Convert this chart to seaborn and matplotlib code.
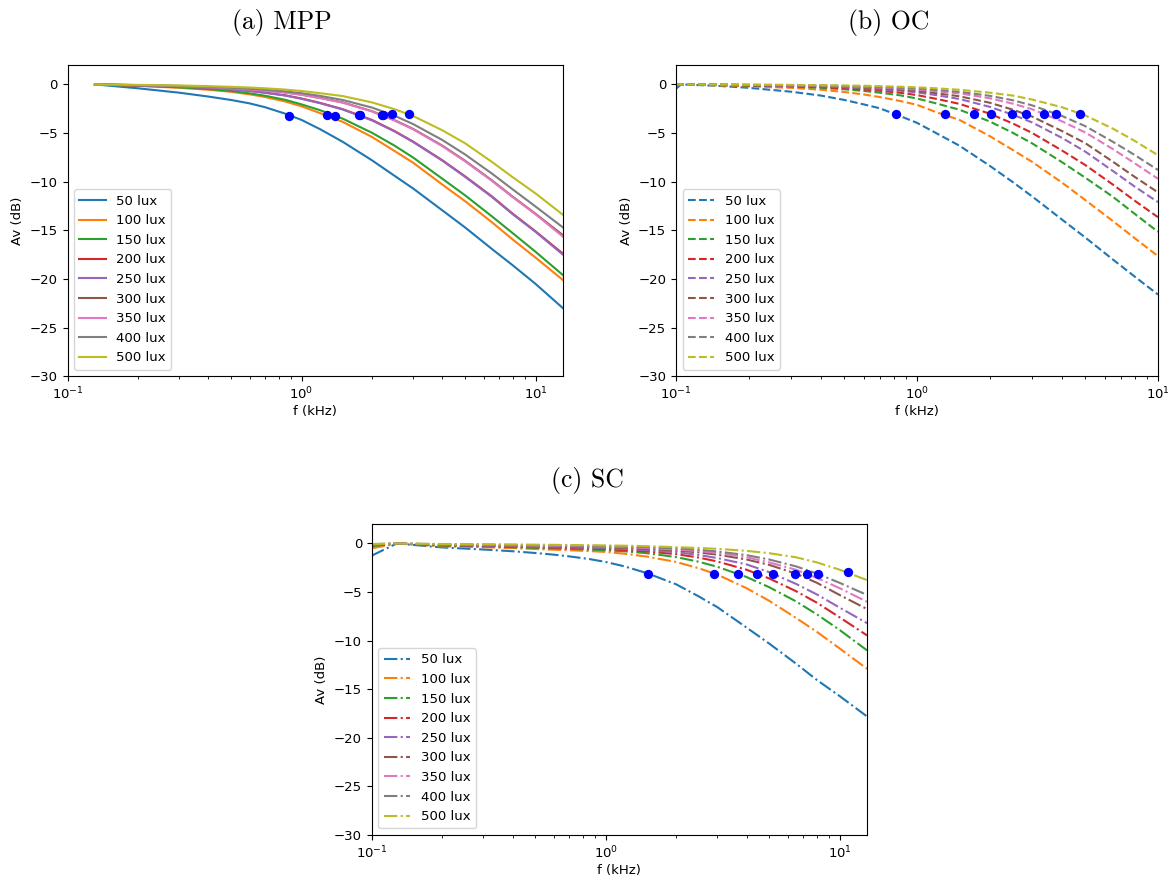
import matplotlib
matplotlib.use("Agg")
import matplotlib.pyplot as plt
import seaborn as sns

plt.rcParams["font.size"] = 9.5

# legend names (same for every panel)
lux = ["50 lux", "100 lux", "150 lux", "200 lux", "250 lux",
       "300 lux", "350 lux", "400 lux", "500 lux"]

# (a) MPP : gain in dB vs frequency in kHz
f_mpp = [0.131, 0.2, 0.3, 0.4, 0.5, 0.6, 0.7, 0.85, 1.0, 1.2, 1.5, 2.0, 2.5,
         3.0, 4.0, 5.0, 6.5, 8.0, 10.0, 13.1]
mpp_50 = [0, -0.4, -0.85, -1.25, -1.6, -1.95, -2.35, -3.0, -3.65, -4.6, -5.9, -7.8, -9.4,
          -10.7, -12.95, -14.7, -16.9, -18.6, -20.5, -23.0]
mpp_100 = [0, -0.15, -0.35, -0.55, -0.76, -1.02, -1.3, -1.75, -2.25, -2.95, -3.85, -5.4, -6.85,
           -8.05, -10.3, -12.0, -14.15, -15.95, -17.8, -20.1]
mpp_150 = [0, -0.13, -0.3, -0.48, -0.68, -0.92, -1.17, -1.58, -2.05, -2.65, -3.52, -4.97, -6.3,
           -7.52, -9.7, -11.4, -13.55, -15.3, -17.2, -19.6]
mpp_200 = [0, -0.1, -0.22, -0.35, -0.5, -0.66, -0.85, -1.12, -1.45, -1.9, -2.55, -3.65, -4.8,
           -5.88, -7.8, -9.45, -11.5, -13.3, -15.1, -17.4]
mpp_250 = [0, -0.1, -0.23, -0.36, -0.52, -0.68, -0.87, -1.14, -1.48, -1.93, -2.58, -3.7, -4.84,
           -5.92, -7.84, -9.5, -11.55, -13.35, -15.15, -17.5]
mpp_300 = [0, -0.08, -0.17, -0.27, -0.38, -0.5, -0.62, -0.82, -1.05, -1.38, -1.85, -2.75, -3.68,
           -4.58, -6.3, -7.85, -9.85, -11.55, -13.3, -15.5]
mpp_350 = [0, -0.08, -0.18, -0.28, -0.4, -0.52, -0.64, -0.84, -1.07, -1.41, -1.88, -2.78, -3.72,
           -4.62, -6.35, -7.9, -9.9, -11.6, -13.35, -15.65]
mpp_400 = [0, -0.07, -0.15, -0.24, -0.34, -0.44, -0.55, -0.71, -0.9, -1.18, -1.6, -2.38, -3.22,
           -4.08, -5.72, -7.2, -9.15, -10.8, -12.55, -14.7]
mpp_500 = [0, -0.05, -0.11, -0.18, -0.25, -0.32, -0.4, -0.53, -0.68, -0.9, -1.2, -1.85, -2.55,
           -3.25, -4.72, -6.05, -7.95, -9.55, -11.2, -13.4]
mpp_dot_f = [0.885, 1.29, 1.39, 1.76, 1.78, 2.2, 2.22, 2.43, 2.87]
mpp_dot_db = [-3.2, -3.15, -3.2, -3.1, -3.1, -3.1, -3.1, -3.05, -3.05]

# (b) OC
f_oc = [0.1, 0.105, 0.15, 0.2, 0.3, 0.4, 0.5, 0.6, 0.7, 0.85, 1.0, 1.2, 1.5, 2.0, 2.5,
        3.0, 4.0, 5.0, 6.5, 8.0, 10.0]
oc_50 = [-0.45, 0, -0.15, -0.35, -0.75, -1.15, -1.6, -2.05, -2.45, -3.25, -3.95, -5.0, -6.3,
         -8.35, -10.05, -11.5, -13.9, -15.75, -18.0, -19.75, -21.6]
oc_100 = [-0.05, 0, -0.1, -0.2, -0.35, -0.55, -0.78, -1.03, -1.3, -1.7, -2.1, -2.85, -3.65,
          -5.3, -6.75, -7.95, -10.1, -11.9, -14.05, -15.8, -17.65]
oc_150 = [-0.03, 0, -0.06, -0.12, -0.22, -0.35, -0.5, -0.67, -0.85, -1.12, -1.45, -1.95, -2.6,
          -3.8, -4.98, -6.05, -8.0, -9.6, -11.55, -13.3, -15.15]
oc_200 = [-0.02, 0, -0.05, -0.09, -0.17, -0.28, -0.4, -0.52, -0.65, -0.86, -1.1, -1.48, -2.0,
          -3.0, -4.02, -4.98, -6.8, -8.3, -10.3, -11.95, -13.65]
oc_250 = [-0.02, 0, -0.04, -0.07, -0.13, -0.21, -0.3, -0.4, -0.5, -0.65, -0.82, -1.1, -1.5,
          -2.3, -3.12, -3.9, -5.5, -6.92, -8.9, -10.5, -12.1]
oc_300 = [-0.01, 0, -0.03, -0.06, -0.11, -0.18, -0.25, -0.33, -0.42, -0.54, -0.68, -0.9, -1.22,
          -1.88, -2.6, -3.3, -4.8, -6.05, -7.95, -9.5, -11.1]
oc_350 = [-0.01, 0, -0.03, -0.05, -0.09, -0.14, -0.2, -0.26, -0.33, -0.42, -0.52, -0.7, -0.92,
          -1.42, -1.98, -2.55, -3.8, -4.95, -6.65, -8.1, -9.7]
oc_400 = [-0.01, 0, -0.02, -0.04, -0.07, -0.11, -0.16, -0.21, -0.27, -0.34, -0.43, -0.57, -0.76,
          -1.17, -1.63, -2.15, -3.25, -4.3, -5.9, -7.25, -8.8]
oc_500 = [0, 0, -0.01, -0.03, -0.05, -0.08, -0.11, -0.14, -0.18, -0.24, -0.3, -0.4, -0.55,
          -0.85, -1.15, -1.55, -2.35, -3.2, -4.55, -5.8, -7.28]
oc_dot_f = [0.82, 1.31, 1.72, 2.03, 2.48, 2.83, 3.35, 3.76, 4.75]
oc_dot_db = [-3.05, -3.05, -3.05, -3.05, -3.05, -3.05, -3.05, -3.05, -3.05]

# (c) SC
f_sc = [0.1, 0.128, 0.2, 0.3, 0.4, 0.5, 0.6, 0.7, 0.85, 1.0, 1.2, 1.5, 2.0, 2.5, 3.0,
        4.0, 5.0, 6.5, 8.0, 10.0, 13.1]
sc_50 = [-1.25, 0, -0.41, -0.62, -0.8, -0.98, -1.15, -1.33, -1.6, -1.9, -2.35, -3.05, -4.2,
         -5.45, -6.55, -8.65, -10.3, -12.35, -14.05, -15.7, -17.8]
sc_100 = [-0.5, 0, -0.3, -0.38, -0.48, -0.57, -0.64, -0.7, -0.78, -0.87, -1.05, -1.35, -1.9,
          -2.55, -3.2, -4.6, -5.9, -7.65, -9.1, -10.8, -12.9]
sc_150 = [-0.28, 0, -0.22, -0.3, -0.38, -0.45, -0.5, -0.55, -0.62, -0.7, -0.8, -1.0, -1.4,
          -1.88, -2.4, -3.45, -4.5, -5.95, -7.3, -8.9, -11.0]
sc_200 = [-0.2, 0, -0.18, -0.25, -0.32, -0.38, -0.43, -0.47, -0.52, -0.58, -0.67, -0.82, -1.1,
          -1.45, -1.85, -2.7, -3.6, -4.9, -6.1, -7.6, -9.46]
sc_250 = [-0.15, 0, -0.15, -0.22, -0.28, -0.33, -0.37, -0.4, -0.45, -0.5, -0.56, -0.68, -0.9,
          -1.18, -1.5, -2.15, -2.95, -4.15, -5.25, -6.6, -8.2]
sc_300 = [-0.12, 0, -0.12, -0.18, -0.23, -0.27, -0.3, -0.33, -0.36, -0.4, -0.45, -0.55, -0.72,
          -0.92, -1.15, -1.65, -2.2, -3.1, -4.05, -5.3, -6.75]
sc_350 = [-0.1, 0, -0.1, -0.15, -0.19, -0.22, -0.25, -0.27, -0.3, -0.33, -0.38, -0.46, -0.62,
          -0.78, -0.98, -1.42, -1.95, -2.7, -3.55, -4.6, -6.0]
sc_400 = [-0.08, 0, -0.08, -0.12, -0.15, -0.18, -0.2, -0.22, -0.24, -0.27, -0.31, -0.38, -0.5,
          -0.65, -0.82, -1.2, -1.65, -2.35, -3.1, -4.05, -5.3]
sc_500 = [-0.05, 0, -0.05, -0.08, -0.1, -0.12, -0.14, -0.16, -0.18, -0.2, -0.23, -0.28, -0.38,
          -0.46, -0.55, -0.76, -1.0, -1.42, -1.95, -2.7, -3.77]
sc_dot_f = [1.51, 2.9, 3.67, 4.43, 5.18, 6.45, 7.24, 8.05, 10.9]
sc_dot_db = [-3.1, -3.1, -3.1, -3.1, -3.1, -3.1, -3.1, -3.1, -2.95]

palette = sns.color_palette("tab10", 9)


def draw(ax, f, curves, dot_f, dot_db, ls, xmax):
    for i, av in enumerate(curves):
        sns.lineplot(x=f, y=av, ax=ax, color=palette[i], linestyle=ls,
                     linewidth=1.5, label=lux[i])
    sns.scatterplot(x=dot_f, y=dot_db, ax=ax, color="blue", s=45,
                    linewidth=0, zorder=5)
    ax.set_xscale("log")
    ax.set_xlim(0.1, xmax)
    ax.set_ylim(-30, 2)
    ax.set_xlabel("f (kHz)", labelpad=2)
    ax.set_ylabel("Av (dB)")
    ax.legend(loc="lower left")


fig = plt.figure(figsize=(11.76, 8.8), dpi=100)
ax_a = fig.add_axes([0.0574, 0.5724, 0.4213, 0.3538])
ax_b = fig.add_axes([0.5748, 0.5724, 0.4099, 0.3538])
ax_c = fig.add_axes([0.3161, 0.0511, 0.4212, 0.3534])

draw(ax_a, f_mpp, [mpp_50, mpp_100, mpp_150, mpp_200, mpp_250,
                   mpp_300, mpp_350, mpp_400, mpp_500],
     mpp_dot_f, mpp_dot_db, "-", 13.1)
draw(ax_b, f_oc, [oc_50, oc_100, oc_150, oc_200, oc_250,
                  oc_300, oc_350, oc_400, oc_500],
     oc_dot_f, oc_dot_db, "--", 10)
draw(ax_c, f_sc, [sc_50, sc_100, sc_150, sc_200, sc_250,
                  sc_300, sc_350, sc_400, sc_500],
     sc_dot_f, sc_dot_db, "-.", 13.1)

# subfigure captions
fig.text(282 / 1176, 1 - 22 / 880, "(a) MPP", fontfamily="cmr10",
         fontsize=18.5, ha="center", va="center")
fig.text(889 / 1176, 1 - 22 / 880, "(b) OC", fontfamily="cmr10",
         fontsize=18.5, ha="center", va="center")
fig.text(587 / 1176, 1 - 480 / 880, "(c) SC", fontfamily="cmr10",
         fontsize=18.5, ha="center", va="center")

fig.savefig("out.png", dpi=100)
